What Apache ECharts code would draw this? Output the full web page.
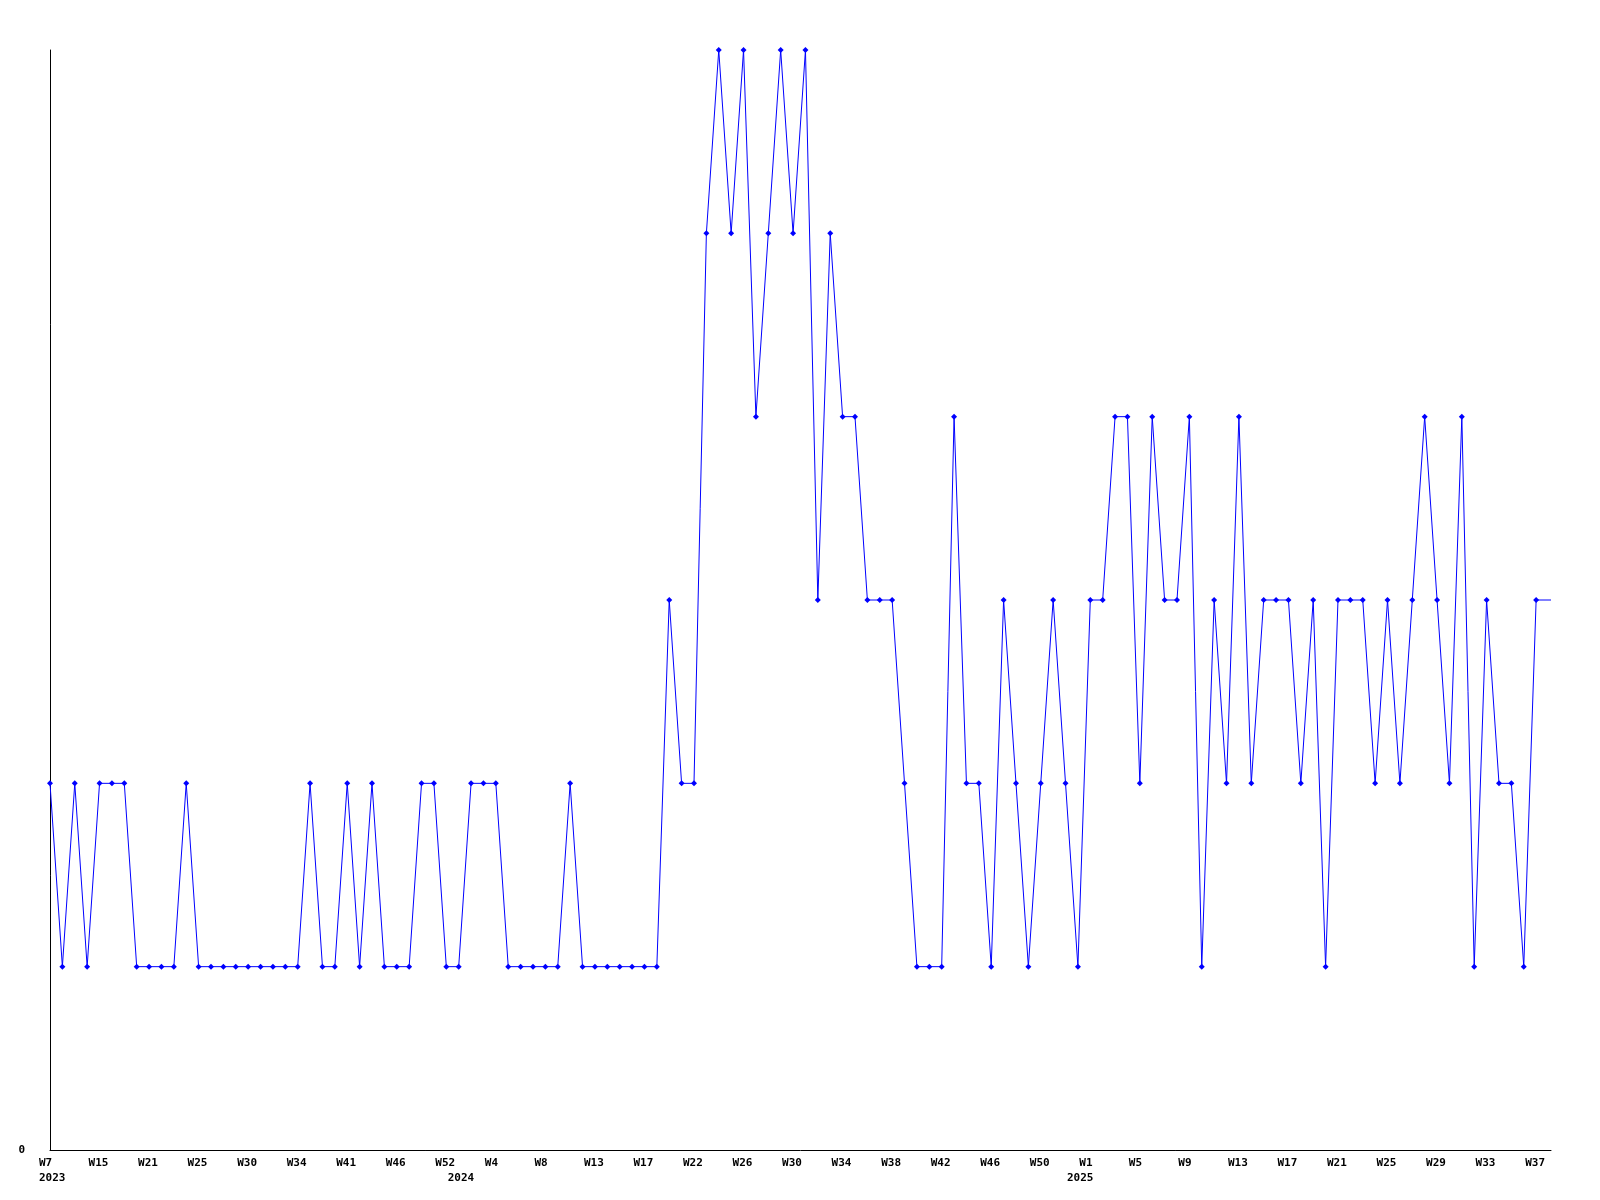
<!DOCTYPE html>
<html>
<head>
<meta charset="utf-8">
<script src="https://cdn.jsdelivr.net/npm/echarts@6/dist/echarts.min.js"></script>
<style>
  html, body { margin: 0; padding: 0; background: #fff; }
  #chart { width: 1600px; height: 1200px; }
</style>
</head>
<body>
<div id="chart"></div>
<script>
// one value per data point, left to right
const values = [
  2, 1, 2, 1, 2, 2, 2, 1, 1, 1,
  1, 2, 1, 1, 1, 1, 1, 1, 1, 1,
  1, 2, 1, 1, 2, 1, 2, 1, 1, 1,
  2, 2, 1, 1, 2, 2, 2, 1, 1, 1,
  1, 1, 2, 1, 1, 1, 1, 1, 1, 1,
  3, 2, 2, 5, 6, 5, 6, 4, 5, 6,
  5, 6, 3, 5, 4, 4, 3, 3, 3, 2,
  1, 1, 1, 4, 2, 2, 1, 3, 2, 1,
  2, 3, 2, 1, 3, 3, 4, 4, 2, 4,
  3, 3, 4, 1, 3, 2, 4, 2, 3, 3,
  3, 2, 3, 1, 3, 3, 3, 2, 3, 2,
  3, 4, 3, 2, 4, 1, 3, 2, 2, 1,
  3
];
// week label shown under every 4th point
const tickLabels = ['W7', 'W15', 'W21', 'W25', 'W30', 'W34', 'W41', 'W46', 'W52', 'W4',
  'W8', 'W13', 'W17', 'W22', 'W26', 'W30', 'W34', 'W38', 'W42', 'W46', 'W50',
  'W1', 'W5', 'W9', 'W13', 'W17', 'W21', 'W25', 'W29', 'W33', 'W37'];
const tickStep = 4;
// year labels and the point where each year starts
const yearNames = ['2023', '2024', '2025'];
const yearIndex = [0, 33, 83];

const xMax = 121.2;
const lastIdx = values.length - 1;

var myChart = echarts.init(document.getElementById('chart'));
var font = 'DejaVu Sans Mono';
var option = {
  animation: false,
  backgroundColor: '#fff',
  grid: { left: 50, right: 49, top: 50, bottom: 50 },
  xAxis: {
    type: 'value',
    min: 0,
    max: xMax,
    interval: 1,
    splitLine: { show: false },
    axisTick: { show: false },
    axisLine: { lineStyle: { color: '#000', width: 1 } },
    axisLabel: {
      showMaxLabel: false,
      margin: 6,
      align: 'left',
      padding: [0, 0, 0, -11],
      color: '#000',
      fontFamily: font,
      fontWeight: 'bold',
      fontSize: 11,
      lineHeight: 15,
      formatter: function (v) {
        if (v !== Math.round(v)) return '';
        let top = (v % tickStep === 0 && tickLabels[v / tickStep]) ? tickLabels[v / tickStep] : '';
        let y = yearIndex.indexOf(v);
        if (y >= 0) return top + '\n' + yearNames[y];
        return top;
      }
    }
  },
  yAxis: {
    type: 'value',
    min: 0,
    max: 6,
    interval: 1,
    splitLine: { show: false },
    axisTick: { show: false },
    axisLine: { show: true, lineStyle: { color: '#000', width: 1 } },
    axisLabel: {
      margin: 25,
      color: '#000',
      fontFamily: font,
      fontWeight: 'bold',
      fontSize: 11,
      formatter: function (v) { return v === 0 ? '0' : ''; }
    }
  },
  series: [
    {
      type: 'line',
      data: values.map((v, i) => [i, v]),
      symbol: 'diamond',
      symbolSize: 6,
      showAllSymbol: true,
      lineStyle: { color: '#0000ff', width: 1 },
      itemStyle: { color: '#0000ff' }
    },
    {
      // last value carried to the right edge
      type: 'line',
      data: [[lastIdx, values[lastIdx]], [xMax, values[lastIdx]]],
      symbol: 'none',
      lineStyle: { color: '#0000ff', width: 1 }
    }
  ]
};
myChart.setOption(option);
</script>
</body>
</html>
